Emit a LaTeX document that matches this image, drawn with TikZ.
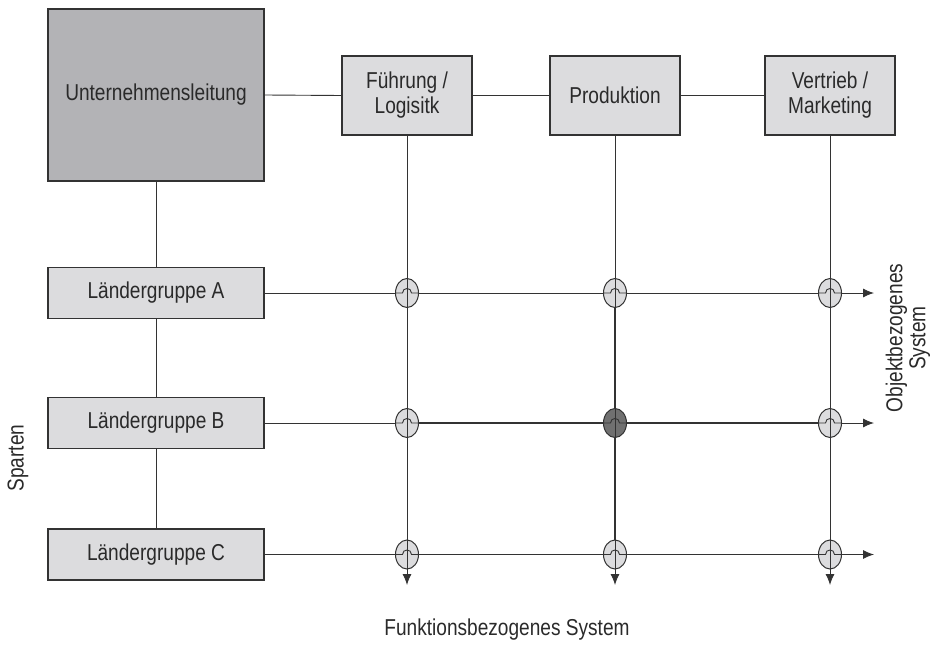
\documentclass[tikz,border=0pt]{standalone}
\usepackage{fontspec}
\setmainfont{Liberation Sans}[FakeStretch=0.83]
\usetikzlibrary{arrows.meta,shapes.geometric}
\definecolor{linec}{HTML}{333333}
\definecolor{boxfill}{HTML}{DCDCDE}
\definecolor{headfill}{HTML}{B3B3B6}
\definecolor{darkx}{HTML}{707070}
\definecolor{txt}{HTML}{2A2A2A}
\tikzset{
  lbl/.style={font=\fontsize{23}{25}\selectfont, text=txt, align=center},
  box/.style={lbl, draw=linec, line width=1.2pt, fill=boxfill, inner sep=0pt},
  headbox/.style={box, fill=headfill, minimum width=216pt, minimum height=172pt},
  funcbox/.style={box, minimum width=130pt, minimum height=79pt},
  landbox/.style={box, minimum width=216pt, minimum height=51pt},
  conn/.style={draw=linec, line width=0.9pt},
  arr/.style={conn, -{Latex[length=11pt,width=9pt]}},
  heavy/.style={draw=linec, line width=1.8pt},
  xing/.style={ellipse, draw=linec, line width=1pt, fill=boxfill, minimum width=23pt, minimum height=29pt, inner sep=0pt},
  xingdark/.style={xing, fill=darkx},
}
\begin{document}
\begin{tikzpicture}[x=1pt,y=-1pt]
\useasboundingbox (0,0) rectangle (935,658);
% boxes
\node[headbox] (ul) at (156,95) {Unternehmensleitung};
\node[funcbox] (fue) at (407,95.5) {Führung /\\Logisitk};
\node[funcbox] (pro) at (615,95.5) {Produktion};
\node[funcbox] (ver) at (830,95.5) {Vertrieb /\\Marketing};
\node[landbox] (lA) at (156,293) {Ländergruppe A};
\node[landbox] (lB) at (156,423) {Ländergruppe B};
\node[landbox] (lC) at (156,554.5) {Ländergruppe C};
% crossing points and arrow ends
\coordinate (cFA) at (407,293);
\coordinate (cPA) at (615,293);
\coordinate (cVA) at (830,293);
\coordinate (cFB) at (407,423);
\coordinate (cPB) at (615,423);
\coordinate (cVB) at (830,423);
\coordinate (cFC) at (407,554.5);
\coordinate (cPC) at (615,554.5);
\coordinate (cVC) at (830,554.5);
\coordinate (eA) at (874,293);
\coordinate (eB) at (874,423);
\coordinate (eC) at (874,554.5);
\coordinate (eF) at (407,585);
\coordinate (eP) at (615,585);
\coordinate (eV) at (830,585);
% hierarchy connectors
\draw[conn] (ul.east) -- (fue.west);
\draw[conn] (fue.east) -- (pro.west);
\draw[conn] (pro.east) -- (ver.west);
\draw[conn] (ul.south) -- (lA.north);
\draw[conn] (lA.south) -- (lB.north);
\draw[conn] (lB.south) -- (lC.north);
% matrix lines
\draw[arr] (lA.east) -- (eA);
\draw[arr] (lB.east) -- (eB);
\draw[arr] (lC.east) -- (eC);
\draw[arr] (fue.south) -- (eF);
\draw[arr] (pro.south) -- (eP);
\draw[arr] (ver.south) -- (eV);
\draw[heavy] (cPA) -- (cPC);
\draw[heavy] (cFB) -- (cVB);
% crossings
\foreach \c in {FA,PA,VA,FB,VB,FC,PC,VC}{
  \node[xing] (x\c) at (c\c) {};
}
\node[xingdark] (xPB) at (cPB) {};
\foreach \c in {FA,PA,VA,FB,PB,VB,FC,PC,VC}{
  \draw[conn] (x\c.north) -- (x\c.south);
  \draw[conn] (x\c.west) -- ([xshift=-4.5pt]x\c.center)
     .. controls +(0,6pt) and +(0,6pt) .. ([xshift=4.5pt]x\c.center) -- (x\c.east);
}
% axis labels
\node[lbl, rotate=90] (sparten) at (18,458) {Sparten};
\node[lbl, rotate=90, font=\fontsize{23}{23}\selectfont] (objekt) at (908,338) {Objektbezogenes\\System};
\node[lbl] (funktion) at (507,630) {Funktionsbezogenes System};
\end{tikzpicture}
\end{document}
